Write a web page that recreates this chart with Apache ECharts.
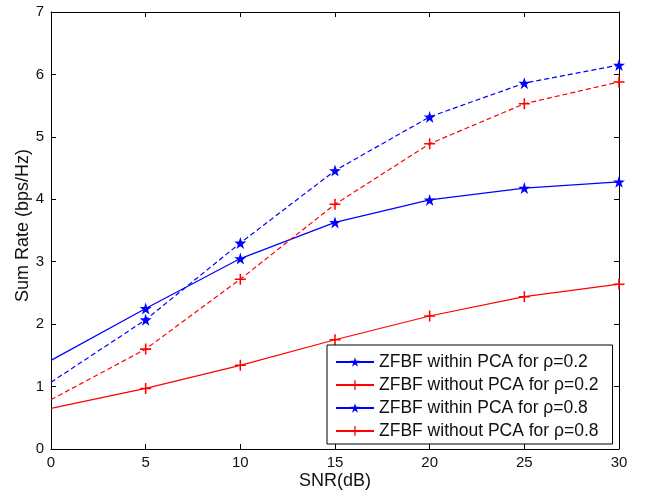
<!DOCTYPE html>
<html>
<head>
<meta charset="utf-8">
<script src="https://cdn.jsdelivr.net/npm/echarts@6/dist/echarts.min.js"></script>
<style>
html,body{margin:0;padding:0;background:#fff;}
#c{width:645px;height:495px;}
</style>
</head>
<body>
<div id="c"></div>
<script>
const snr = [0, 5, 10, 15, 20, 25, 30];
const withinPCA02 = [1.42, 2.25, 3.05, 3.63, 3.99, 4.18, 4.28];
const withoutPCA02 = [0.65, 0.97, 1.34, 1.75, 2.13, 2.44, 2.64];
const withinPCA08 = [1.07, 2.07, 3.30, 4.46, 5.32, 5.86, 6.15];
const withoutPCA08 = [0.79, 1.60, 2.72, 3.92, 4.89, 5.53, 5.88];
const seriesNames = [
  'ZFBF within PCA for ρ=0.2',
  'ZFBF without PCA for ρ=0.2',
  'ZFBF within PCA for ρ=0.8',
  'ZFBF without PCA for ρ=0.8'
];
const xTicks = {min: 0, max: 30, interval: 5};
const yTicks = {min: 0, max: 7, interval: 1};

const STAR = 'path://M50,0 L61.8,35.1 L98.9,35.1 L69.1,56.9 L80.4,91.9 L50,70.2 L19.6,91.9 L30.9,56.9 L1.1,35.1 L38.2,35.1 Z';
const PLUS = 'path://M4.3,0 H5.7 V4.3 H10 V5.7 H5.7 V10 H4.3 V5.7 H0 V4.3 H4.3 Z';

function pts(vals) {
  return vals.map((v, i) => i === 0 ? {value: [snr[i], v], symbol: 'none'} : [snr[i], v]);
}

const font = 'Liberation Sans, Arial, sans-serif';
const chart = echarts.init(document.getElementById('c'), null, {renderer: 'canvas'});

function mk(name, vals, color, sym, size, dashed) {
  return {
    name: name,
    type: 'line',
    data: pts(vals),
    symbol: sym,
    symbolSize: size,
    showAllSymbol: true,
    lineStyle: {color: color, width: 1.2, type: dashed ? [5, 3] : 'solid'},
    itemStyle: {color: color},
    emphasis: {disabled: true},
    animation: false,
    xAxisIndex: 0,
    yAxisIndex: 0
  };
}

const axisCommon = {
  type: 'value',
  axisLine: {show: true, onZero: false, lineStyle: {color: '#000', width: 1}},
  axisTick: {show: true, inside: true, length: 5, lineStyle: {color: '#000'}},
  splitLine: {show: false}
};

chart.setOption({
  backgroundColor: '#fff',
  animation: false,
  grid: {left: 51, right: 26, top: 12, bottom: 46, containLabel: false},
  xAxis: [
    Object.assign({}, axisCommon, {
      position: 'bottom', min: xTicks.min, max: xTicks.max, interval: xTicks.interval,
      name: 'SNR(dB)', nameLocation: 'middle', nameGap: 23, nameMoveOverlap: false,
      nameTextStyle: {fontFamily: font, fontSize: 18, color: '#111'},
      axisLabel: {fontFamily: font, fontSize: 15, color: '#111', margin: 6}
    }),
    Object.assign({}, axisCommon, {
      position: 'top', min: xTicks.min, max: xTicks.max, interval: xTicks.interval,
      axisLabel: {show: false}
    })
  ],
  yAxis: [
    Object.assign({}, axisCommon, {
      position: 'left', min: yTicks.min, max: yTicks.max, interval: yTicks.interval,
      name: 'Sum Rate (bps/Hz)', nameLocation: 'middle', nameGap: 19, nameMoveOverlap: false,
      nameTextStyle: {fontFamily: font, fontSize: 18, color: '#111', padding: [0, 0, 0, 10]},
      axisLabel: {fontFamily: font, fontSize: 15, color: '#111', margin: 7}
    }),
    Object.assign({}, axisCommon, {
      position: 'right', min: yTicks.min, max: yTicks.max, interval: yTicks.interval,
      axisLabel: {show: false}
    })
  ],
  legend: {
    orient: 'vertical',
    left: 327,
    top: 345,
    padding: [8, 14, 4, 8],
    itemWidth: 38,
    itemHeight: 12,
    itemGap: 5,
    backgroundColor: '#fff',
    borderColor: '#000',
    borderWidth: 1,
    borderRadius: 0,
    lineStyle: {type: 'solid'},
    textStyle: {fontFamily: font, fontSize: 17.5, color: '#111'},
    data: seriesNames
  },
  series: [
    mk(seriesNames[0], withinPCA02, '#0000ff', STAR, 12, false),
    mk(seriesNames[1], withoutPCA02, '#ff0000', PLUS, 11, false),
    mk(seriesNames[2], withinPCA08, '#0000ff', STAR, 12, true),
    mk(seriesNames[3], withoutPCA08, '#ff0000', PLUS, 11, true)
  ]
});
</script>
</body>
</html>
